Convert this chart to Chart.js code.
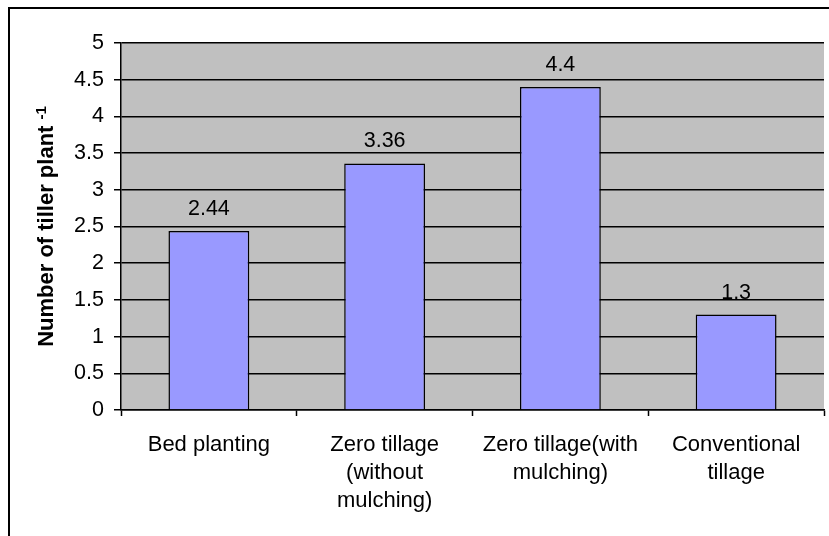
<!DOCTYPE html>
<html>
<head>
<meta charset="utf-8">
<title>Number of tiller plant-1</title>
<script src="https://cdn.jsdelivr.net/npm/chart.js@4.4.1/dist/chart.umd.min.js"></script>
<style>
  html, body { margin: 0; padding: 0; background: #ffffff; }
  canvas { display: block; }
</style>
</head>
<body>
<canvas id="chart" width="829" height="536"></canvas>
<script>
// Tillage treatments and tiller counts per plant
const categories = [
  'Bed planting',
  ['Zero tillage', '(without', 'mulching)'],
  ['Zero tillage(with', 'mulching)'],
  ['Conventional', 'tillage']
];
const tillerValues = [2.44, 3.36, 4.4, 1.3];
const yTickValues = [0, 0.5, 1, 1.5, 2, 2.5, 3, 3.5, 4, 4.5, 5];

const FONT = '"Liberation Sans", Arial, sans-serif';

// Grey plot background, white page and the outer frame
const backgroundPlugin = {
  id: 'backgroundPlugin',
  beforeDraw(chart) {
    const { ctx, chartArea: a } = chart;
    ctx.save();
    ctx.fillStyle = '#ffffff';
    ctx.fillRect(0, 0, chart.width, chart.height);
    ctx.fillStyle = '#c0c0c0';
    ctx.fillRect(a.left, a.top, a.right - a.left, a.bottom - a.top);
    ctx.strokeStyle = '#000000';
    ctx.lineWidth = 2;
    ctx.strokeRect(9, 8, chart.width + 50, chart.height + 50);
    ctx.restore();
  }
};

// Value written above each bar
const valueLabelPlugin = {
  id: 'valueLabelPlugin',
  afterDatasetsDraw(chart) {
    const { ctx } = chart;
    const meta = chart.getDatasetMeta(0);
    ctx.save();
    ctx.font = '21.5px ' + FONT;
    ctx.fillStyle = '#000000';
    ctx.textAlign = 'center';
    ctx.textBaseline = 'alphabetic';
    meta.data.forEach((bar, i) => {
      ctx.fillText(String(chart.data.datasets[0].data[i]), bar.x, bar.y - 16);
    });
    ctx.restore();
  }
};

// Rotated y-axis title with a superscript exponent
const yTitlePlugin = {
  id: 'yTitlePlugin',
  afterDraw(chart) {
    const { ctx, chartArea: a } = chart;
    const main = 'Number of tiller plant ';
    const sup = '-1';
    ctx.save();
    ctx.fillStyle = '#000000';
    ctx.font = 'bold 22px ' + FONT;
    const wMain = ctx.measureText(main).width;
    ctx.font = 'bold 15px ' + FONT;
    const wSup = ctx.measureText(sup).width;
    const total = wMain + wSup;
    const cy = (a.top + a.bottom) / 2;
    ctx.translate(53, cy + total / 2);
    ctx.rotate(-Math.PI / 2);
    ctx.textBaseline = 'alphabetic';
    ctx.textAlign = 'left';
    ctx.font = 'bold 22px ' + FONT;
    ctx.fillText(main, 0, 0);
    ctx.font = 'bold 15px ' + FONT;
    ctx.fillText(sup, wMain, -7);
    ctx.restore();
  }
};

new Chart(document.getElementById('chart'), {
  type: 'bar',
  data: {
    labels: categories,
    datasets: [{
      data: tillerValues,
      backgroundColor: '#9999ff',
      borderColor: '#000000',
      borderWidth: 1.5,
      barPercentage: 0.46,
      categoryPercentage: 1.0
    }]
  },
  options: {
    responsive: false,
    animation: false,
    devicePixelRatio: 1,
    layout: { padding: { left: 0, top: 43, right: 5, bottom: 0 } },
    plugins: {
      legend: { display: false },
      tooltip: { enabled: false },
      title: { display: false }
    },
    scales: {
      x: {
        offset: true,
        grid: {
          display: true,
          offset: true,
          drawOnChartArea: false,
          drawTicks: true,
          tickLength: 6,
          tickColor: '#000000',
          tickWidth: 1.5
        },
        border: { display: true, color: '#000000', width: 1.5 },
        ticks: {
          color: '#000000',
          font: { family: FONT, size: 22, lineHeight: 1.27 },
          padding: 15,
          maxRotation: 0,
          minRotation: 0,
          autoSkip: false
        },
        afterFit(scale) { scale.height = 126; }
      },
      y: {
        min: 0,
        max: 5,
        afterBuildTicks(scale) {
          scale.ticks = yTickValues.map(v => ({ value: v }));
        },
        grid: {
          display: true,
          color: '#000000',
          lineWidth: 1.5,
          drawTicks: true,
          tickLength: 7,
          tickColor: '#000000',
          tickWidth: 1.5
        },
        border: { display: true, color: '#000000', width: 1.5 },
        ticks: {
          color: '#000000',
          font: { family: FONT, size: 21.5 },
          padding: 10,
          callback: (v) => String(v)
        },
        afterFit(scale) { scale.width = 121; }
      }
    }
  },
  plugins: [backgroundPlugin, valueLabelPlugin, yTitlePlugin]
});
</script>
</body>
</html>
